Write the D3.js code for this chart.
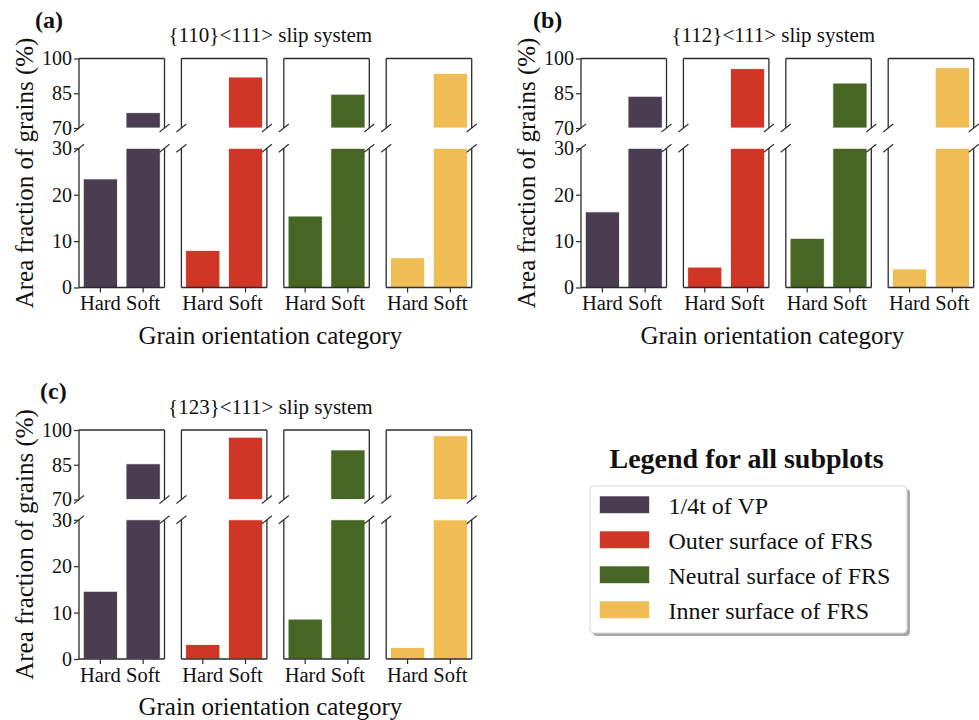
<!DOCTYPE html>
<html>
<head>
<meta charset="utf-8">
<script src="https://cdn.jsdelivr.net/npm/d3@7"></script>
<style>
  html, body { margin: 0; padding: 0; background: #fff; }
  svg text { font-family: "Liberation Serif", "DejaVu Serif", serif; fill: #111; }
</style>
</head>
<body>
<svg id="chart" width="979" height="720"></svg>
<script>
const categories = ["Hard", "Soft"];
const locations = ["1/4t of VP", "Outer surface of FRS", "Neutral surface of FRS", "Inner surface of FRS"];
const colors = ["#4a3d52", "#d13526", "#476623", "#f0bd55"];

const panelLabels = ["(a)", "(b)", "(c)"];
const slipSystems = ["{110}<111> slip system", "{112}<111> slip system", "{123}<111> slip system"];

// area fraction (%) per location, order as in `locations`
const hard110 = [23.4, 8.0, 15.4, 6.4];
const soft110 = [76.6, 92.0, 84.6, 93.6];
const hard112 = [16.3, 4.4, 10.6, 4.0];
const soft112 = [83.7, 95.6, 89.4, 96.0];
const hard123 = [14.6, 3.1, 8.6, 2.5];
const soft123 = [85.4, 96.9, 91.4, 97.5];

const lowTicks = [0, 10, 20, 30];
const highTicks = [70, 85, 100];

const yLabel = "Area fraction of grains (%)",
      xLabel = "Grain orientation category",
      legendTitle = "Legend for all subplots";

const SUB_W = 85.5,
      SUB_STEP = 102.4,
      TOP_H = 69.5,
      GAP = 20.3,
      LOW_H = 139.2,
      SPINE = "#2b2b2b",
      TITLE_FONT = 21,
      TICK_FONT = 20,
      XTICK_FONT = 20.5,
      LABEL_FONT = 25,
      BREAK_DX = 5,
      BREAK_DY = 4;

const panels = [
  {label: panelLabels[0], title: slipSystems[0], hard: hard110, soft: soft110, x: 79, y: 58.5, lx: 35, titleDx: -5},
  {label: panelLabels[1], title: slipSystems[1], hard: hard112, soft: soft112, x: 581, y: 58.5, lx: 533, titleDx: -4},
  {label: panelLabels[2], title: slipSystems[2], hard: hard123, soft: soft123, x: 79, y: 430, lx: 40, titleDx: -5}
];

const svg = d3.select("#chart");

function spine(g, x1, y1, x2, y2) {
  g.append("line")
    .attr("x1", x1).attr("y1", y1).attr("x2", x2).attr("y2", y2)
    .attr("stroke", SPINE).attr("stroke-width", 1.3);
}

function breakMark(g, x, y) {
  g.append("line")
    .attr("x1", x - BREAK_DX).attr("y1", y + BREAK_DY)
    .attr("x2", x + BREAK_DX).attr("y2", y - BREAK_DY)
    .attr("stroke", SPINE).attr("stroke-width", 1.1);
}

function styleAxis(sel, size) {
  sel.select(".domain").remove();
  sel.selectAll(".tick line").attr("stroke", SPINE).attr("stroke-width", 1.2);
  sel.selectAll(".tick text")
    .attr("font-size", size)
    .attr("font-family", "Liberation Serif")
    .attr("fill", "#111");
}

panels.forEach(p => {
  let g = svg.append("g").attr("transform", "translate(" + p.x + "," + p.y + ")");

  let topY = 0,
      lowTop = TOP_H + GAP,
      lowBottom = lowTop + LOW_H;

  let yHigh = d3.scaleLinear().domain([70, 100]).range([TOP_H, topY]),
      yLow = d3.scaleLinear().domain([0, 30]).range([lowBottom, lowTop]),
      x = d3.scaleBand().domain(categories).range([0, SUB_W]).paddingInner(0.2).paddingOuter(0.1);

  let totalW = 3 * SUB_STEP + SUB_W;

  // panel label + title
  svg.append("text")
    .attr("x", p.lx).attr("y", p.y - 31)
    .attr("font-size", 24).attr("font-weight", "bold")
    .text(p.label);

  svg.append("text")
    .attr("x", p.x + totalW / 2 + p.titleDx).attr("y", p.y - 16.5)
    .attr("text-anchor", "middle")
    .attr("font-size", TITLE_FONT)
    .text(p.title);

  locations.forEach((loc, i) => {
    let sg = g.append("g").attr("transform", "translate(" + (i * SUB_STEP) + ",0)");
    let vals = [p.hard[i], p.soft[i]];

    vals.forEach((v, k) => {
      // upper (broken) axes
      if (v > 70) {
        sg.append("rect")
          .attr("x", x(categories[k]))
          .attr("y", yHigh(Math.min(v, 100)))
          .attr("width", x.bandwidth())
          .attr("height", yHigh(70) - yHigh(Math.min(v, 100)))
          .attr("fill", colors[i])
          .attr("stroke", "#fff").attr("stroke-width", 0.8);
      }
      // lower axes, clipped at 30
      if (v > 0) {
        let top = Math.min(v, 30);
        sg.append("rect")
          .attr("x", x(categories[k]))
          .attr("y", yLow(top))
          .attr("width", x.bandwidth())
          .attr("height", yLow(0) - yLow(top))
          .attr("fill", colors[i])
          .attr("stroke", "#fff").attr("stroke-width", 0.8);
      }
    });

    // spines
    spine(sg, 0, yHigh(100), SUB_W, yHigh(100));
    spine(sg, 0, yHigh(100), 0, yHigh(70));
    spine(sg, SUB_W, yHigh(100), SUB_W, yHigh(70));
    spine(sg, 0, yLow(30), 0, yLow(0));
    spine(sg, SUB_W, yLow(30), SUB_W, yLow(0));
    spine(sg, 0, yLow(0), SUB_W, yLow(0));

    breakMark(sg, 0, yHigh(70));
    breakMark(sg, SUB_W, yHigh(70));
    breakMark(sg, 0, yLow(30));
    breakMark(sg, SUB_W, yLow(30));

    sg.append("g")
      .attr("transform", "translate(0," + yLow(0) + ")")
      .call(d3.axisBottom(x).tickSize(5).tickPadding(3))
      .call(styleAxis, XTICK_FONT);

    if (i === 0) {
      sg.append("g")
        .call(d3.axisLeft(yHigh).tickValues(highTicks).tickSize(5).tickPadding(2))
        .call(styleAxis, TICK_FONT);
      sg.append("g")
        .call(d3.axisLeft(yLow).tickValues(lowTicks).tickSize(5).tickPadding(2))
        .call(styleAxis, TICK_FONT);
    }
  });

  // axis labels
  svg.append("text")
    .attr("x", p.x + totalW / 2 - 5)
    .attr("y", p.y + lowBottom + 56)
    .attr("text-anchor", "middle")
    .attr("font-size", LABEL_FONT)
    .text(xLabel);

  let cy = p.y + lowBottom / 2;
  svg.append("text")
    .attr("transform", "translate(" + (p.x - 46) + "," + cy + ") rotate(-90)")
    .attr("text-anchor", "middle")
    .attr("font-size", LABEL_FONT)
    .text(yLabel);
});

// legend
const LEG_X = 590, LEG_Y = 486, LEG_W = 317, LEG_H = 147, ROW = 35;

svg.append("text")
  .attr("x", LEG_X + LEG_W / 2 - 2)
  .attr("y", 468)
  .attr("text-anchor", "middle")
  .attr("font-size", 28)
  .attr("font-weight", "bold")
  .text(legendTitle);

svg.append("rect")
  .attr("x", LEG_X + 3).attr("y", LEG_Y + 3)
  .attr("width", LEG_W).attr("height", LEG_H)
  .attr("rx", 4)
  .attr("fill", "#a8a8a8");

svg.append("rect")
  .attr("x", LEG_X).attr("y", LEG_Y)
  .attr("width", LEG_W).attr("height", LEG_H)
  .attr("rx", 4)
  .attr("fill", "#fff")
  .attr("stroke", "#d6d6d6");

let rows = svg.append("g").selectAll("g").data(locations).join("g")
  .attr("transform", (d, i) => "translate(" + (LEG_X + 9.5) + "," + (LEG_Y + 10 + i * ROW) + ")");

rows.append("rect")
  .attr("width", 50).attr("height", 17.5)
  .attr("fill", (d, i) => colors[i])
  .attr("stroke", "#fff").attr("stroke-width", 0.6);

rows.append("text")
  .attr("x", 69).attr("y", 17.5)
  .attr("font-size", 24)
  .text(d => d);
</script>
</body>
</html>
